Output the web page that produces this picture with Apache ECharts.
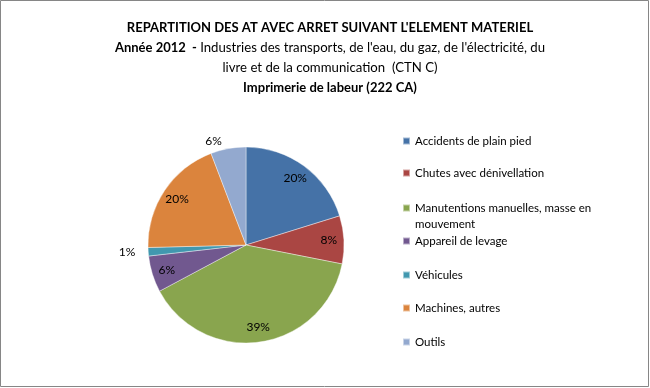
<!DOCTYPE html>
<html>
<head>
<meta charset="utf-8">
<script src="https://cdn.jsdelivr.net/npm/echarts@6/dist/echarts.min.js"></script>
<style>
html,body{margin:0;padding:0;background:#fff;}
#chart{width:650px;height:388px;}
</style>
</head>
<body>
<div id="chart"></div>
<script>
// ---- data ----
const categories = [
  "Accidents de plain pied",
  "Chutes avec dénivellation",
  "Manutentions manuelles, masse en mouvement",
  "Appareil de levage",
  "Véhicules",
  "Machines, autres",
  "Outils"
];
const values = [20.2, 7.9, 39.1, 6.0, 1.4, 19.6, 5.8];
const colors = ['#4572A7', '#AA4643', '#89A54E', '#71588F', '#4198AF', '#DB843D', '#93A9CF'];
const outsideLabels = ["Véhicules", "Outils"];

const titleLine1 = "REPARTITION DES AT AVEC ARRET SUIVANT L'ELEMENT MATERIEL";
const titleLine2a = "Année 2012  - ";
const titleLine2b = "Industries des transports, de l'eau, du gaz, de l'électricité, du";
const titleLine3 = "livre et de la communication  (CTN C)";
const titleLine4 = "Imprimerie de labeur (222 CA)";

// ---- layout ----
const FONT = 'Lato, "Open Sans", sans-serif';
const legendCenters = [141, 173, 208, 241, 275, 308, 342];

function wrap(name) {
  if (name.length <= 34) return name;
  const cut = name.lastIndexOf(' ', 33);
  // leading empty line keeps the first text line level with the marker
  return ' \n' + name.slice(0, cut) + '\n' + name.slice(cut + 1);
}

const chart = echarts.init(document.getElementById('chart'), null, {renderer: 'canvas'});

const legends = categories.map((name, i) => {
  const multi = wrap(name).indexOf('\n') >= 0;
  return {
    data: [name],
    orient: 'vertical',
    left: 402,
    top: multi ? legendCenters[i] - 24 : legendCenters[i] - 7,
    padding: 0,
    icon: 'rect',
    itemWidth: 7,
    itemHeight: 7,
    formatter: wrap,
    selectedMode: false,
    textStyle: {
      fontFamily: FONT,
      fontSize: 11.5,
      color: '#000',
      lineHeight: multi ? 16 : 14
    }
  };
});

const pieData = categories.map((n, i) => ({name: n, value: values[i], itemStyle: {color: colors[i]}}));
const labelData = categories.map((n, i) => {
  const out = outsideLabels.indexOf(n) >= 0;
  return {
    name: n,
    value: values[i],
    label: {position: out ? 'outside' : 'inside'}
  };
});

chart.setOption({
  backgroundColor: '#fff',
  animation: false,
  title: {
    left: 325,
    top: 13,
    textAlign: 'center',
    text: '{b|' + titleLine1 + '}\n{b|' + titleLine2a + '}{n|' + titleLine2b + '}\n{n|' + titleLine3 + '}\n{b|' + titleLine4 + '}',
    textStyle: {
      rich: {
        b: {fontFamily: FONT, fontWeight: 'bold', fontSize: 13, color: '#000', lineHeight: 20},
        n: {fontFamily: FONT, fontWeight: 'normal', fontSize: 13.2, color: '#000', lineHeight: 20}
      }
    }
  },
  legend: legends,
  graphic: [{
    type: 'rect',
    shape: {x: 0.5, y: 0.5, width: 648, height: 386},
    style: {fill: 'none', stroke: '#868686', lineWidth: 1},
    silent: true,
    z: 100
  }],
  series: [
    {
      type: 'pie',
      center: [246, 245],
      radius: [0, 98],
      startAngle: 90,
      clockwise: true,
      data: pieData,
      label: {show: false},
      labelLine: {show: false},
      itemStyle: {borderColor: 'rgba(255,255,255,0.5)', borderWidth: 0.8},
      emphasis: {disabled: true}
    },
    {
      type: 'pie',
      center: [246, 245],
      radius: [62, 98],
      startAngle: 90,
      clockwise: true,
      data: labelData,
      percentPrecision: 0,
      itemStyle: {color: 'rgba(0,0,0,0)'},
      label: {
        show: true,
        formatter: '{d}%',
        fontFamily: FONT,
        fontSize: 12,
        color: '#000'
      },
      labelLine: {show: false, length: 8, length2: 0},
      silent: true,
      emphasis: {disabled: true}
    }
  ]
});
</script>
</body>
</html>
